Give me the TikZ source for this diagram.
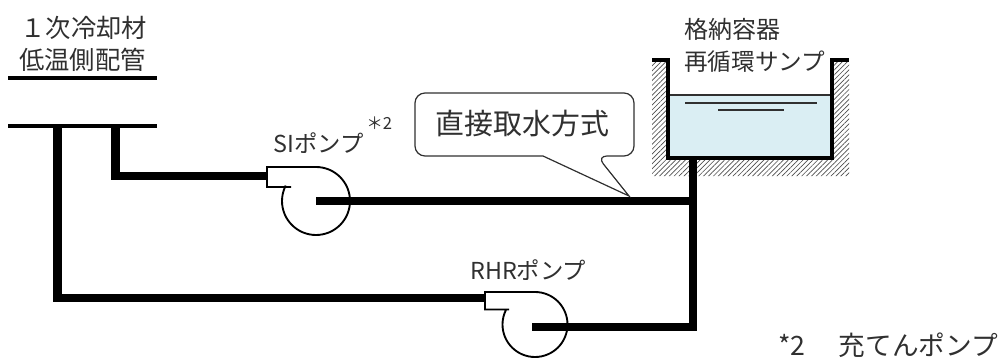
\documentclass[tikz,border=0pt]{standalone}
\usepackage{fontspec}
\setmainfont{Noto Sans CJK JP}
\usetikzlibrary{patterns.meta}
\definecolor{labelgray}{HTML}{303030}
\definecolor{sumpblue}{HTML}{DAEEF3}
\tikzset{
  pipe/.style={line width=6.5pt,miter limit=10},
  header/.style={line width=3pt},
  casing/.style={line width=1.4pt,line join=miter},
  sumpwall/.style={line width=2.4pt},
  waterline/.style={line width=1.1pt,labelgray},
  label/.style={text=labelgray,align=center,inner sep=0pt,font=\fontsize{#1}{#1}\selectfont},
  label/.default=17pt
}
\begin{document}
\begin{tikzpicture}[x=0.75pt,y=-0.75pt]
\useasboundingbox (0,0) rectangle (1004,360);
\coordinate (headerA1) at (8,78);
\coordinate (headerA2) at (157,78);
\coordinate (headerB1) at (8,126);
\coordinate (headerB2) at (157,126);
\coordinate (rhrtap) at (57.5,126);
\coordinate (sitap) at (115.5,126);
\coordinate (sicorner) at (115.5,176);
\coordinate (siinlet) at (268,176);
\coordinate (sicentre) at (316,201);
\coordinate (rhrcorner) at (57.5,298);
\coordinate (rhrinlet) at (486,298);
\coordinate (rhrcentre) at (532,327);
\coordinate (sumpout) at (693,158);
\coordinate (sijoin) at (693,201);
\coordinate (rhrjoin) at (693,327);
% sump
\path[pattern={Lines[angle=45,distance=2.6pt,line width=0.5pt]},pattern color=black!70]
  (652,61) -- (668,61) -- (668,158) -- (832,158) -- (832,61) -- (849,61) -- (849,176) -- (652,176) -- cycle;
\fill[sumpblue] (668,95) rectangle (832,158);
\draw[line width=1pt,labelgray] (668,95) -- (832,95);
\draw[sumpwall] (652,60) -- (668,60) -- (668,158) -- (832,158) -- (832,60) -- (849,60);
\draw[waterline] (685,103) -- (817,103);
\draw[waterline] (718,110) -- (784,110);
% header
\draw[header] (headerA1) -- (headerA2);
\draw[header] (headerB1) -- (headerB2);
% pumps
\draw[casing] (291,187) -- (267,187) -- (267,167) -- (316,167) arc[start angle=-90,end angle=207,radius=34];
\draw[casing] (509,309.5) -- (485,309.5) -- (485,292) -- (535,292) arc[start angle=-90,end angle=207,radius=32.5];
% pipes
\draw[pipe] (rhrtap) -- (rhrcorner) -- (rhrinlet);
\draw[pipe] (sitap) -- (sicorner) -- (siinlet);
\draw[pipe] (sicentre) -- (sijoin);
\draw[pipe] (sumpout) -- (rhrjoin) -- (rhrcentre);
% callout
\draw[line width=0.9pt,labelgray,fill=white,rounded corners=7.5pt]
  (415,93) -- (634,93) -- (634,156) -- (597,156) [sharp corners] -- (629,196) -- (543,156) [rounded corners=7.5pt] -- (415,156) -- cycle;
% labels
\node[label=19pt] (coolantA) at (84,28) {１次冷却材};
\node[label=19pt] (coolantB) at (82.5,60) {低温側配管};
\node[label=18pt,anchor=west] (sumpA) at (684,29) {格納容器};
\node[label=17.7pt,anchor=west] (sumpB) at (684,62) {再循環サンプ};
\node[label=21.7pt] (method) at (522.5,124) {直接取水方式};
\node[label=17.5pt,anchor=west] (silabel) at (273,143) {SIポンプ};
\node[label=12.5pt,anchor=west] (sinote) at (366,123) {＊2};
\node[label=17.5pt,anchor=west] (rhrlabel) at (470,270) {RHRポンプ};
\node[label=20pt,anchor=west] (footnote) at (778,345) {*2\hspace{25pt}充てんポンプ};
\end{tikzpicture}
\end{document}
